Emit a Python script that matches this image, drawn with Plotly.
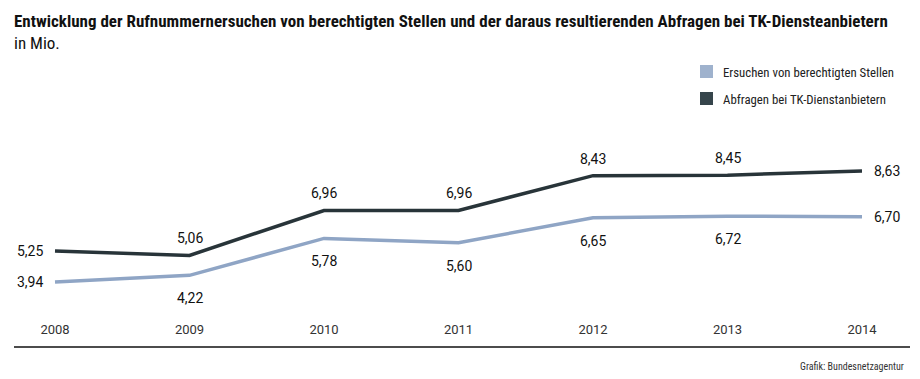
import plotly.graph_objects as go

years = [2008, 2009, 2010, 2011, 2012, 2013, 2014]
ersuchen = [3.94, 4.22, 5.78, 5.60, 6.65, 6.72, 6.70]
abfragen = [5.25, 5.06, 6.96, 6.96, 8.43, 8.45, 8.63]
ersuchen_labels = ["3,94", "4,22", "5,78", "5,60", "6,65", "6,72", "6,70"]
abfragen_labels = ["5,25", "5,06", "6,96", "6,96", "8,43", "8,45", "8,63"]
series_names = ["Ersuchen von berechtigten Stellen", "Abfragen bei TK-Dienstanbietern"]

LIGHT = "#8fa5c5"
DARK = "#283439"
OFF = 8  # page body margin
W, H = 912, 371
ML, MR, MT, MB = 12, 20, 112, 59
PW, PH = W - ML - MR, H - MT - MB

def px_x(p):
    return (p - OFF - ML) / PW

def px_y(p):
    return (H - MB - (p - OFF)) / PH

fig = go.Figure()
fig.add_trace(go.Scatter(x=years, y=ersuchen, mode="lines", name=series_names[0],
                         line=dict(color=LIGHT, width=3.5), showlegend=False))
fig.add_trace(go.Scatter(x=years, y=abfragen, mode="lines", name=series_names[1],
                         line=dict(color=DARK, width=3.5), showlegend=False))

LABEL_FONT = dict(family="Roboto, sans-serif", size=14, color="#111")
annotations = []
n = len(years)
for i, (yr, v, t) in enumerate(zip(years, ersuchen, ersuchen_labels)):
    if i == 0:
        a = dict(xanchor="right", xshift=-10, yshift=0)
    elif i == n - 1:
        a = dict(xanchor="left", xshift=10, yshift=0)
    else:
        a = dict(xanchor="center", xshift=0, yshift=-23)
    annotations.append(dict(x=yr, y=v, text=t, showarrow=False, yanchor="middle",
                            font=LABEL_FONT, **a))
for i, (yr, v, t) in enumerate(zip(years, abfragen, abfragen_labels)):
    if i == 0:
        a = dict(xanchor="right", xshift=-10, yshift=0)
    elif i == n - 1:
        a = dict(xanchor="left", xshift=10, yshift=0)
    else:
        a = dict(xanchor="center", xshift=0, yshift=17)
    annotations.append(dict(x=yr, y=v, text=t, showarrow=False, yanchor="middle",
                            font=LABEL_FONT, **a))

shapes = [
    dict(type="line", xref="paper", yref="paper", x0=px_x(14), x1=px_x(910),
         y0=px_y(347), y1=px_y(347), line=dict(color="#111", width=1.5)),
    dict(type="rect", xref="paper", yref="paper", x0=px_x(700), x1=px_x(713),
         y0=px_y(78), y1=px_y(65), fillcolor="#9fb2cd", line=dict(width=0)),
    dict(type="rect", xref="paper", yref="paper", x0=px_x(700), x1=px_x(713),
         y0=px_y(105), y1=px_y(92), fillcolor="#36454b", line=dict(width=0)),
]

COND = "Roboto Condensed, Liberation Sans Narrow, Roboto, sans-serif"
annotations += [
    dict(xref="paper", yref="paper", x=px_x(721), y=px_y(72), xanchor="left", yanchor="middle",
         text=series_names[0], showarrow=False, font=dict(family=COND, size=12.8, color="#222")),
    dict(xref="paper", yref="paper", x=px_x(721), y=px_y(99), xanchor="left", yanchor="middle",
         text=series_names[1], showarrow=False, font=dict(family=COND, size=12.8, color="#222")),
    dict(xref="paper", yref="paper", x=px_x(906), y=px_y(366), xanchor="right", yanchor="middle",
         text="Grafik: Bundesnetzagentur", showarrow=False, font=dict(family=COND, size=10, color="#333")),
    dict(xref="paper", yref="paper", x=px_x(12), y=px_y(8.5), xanchor="left", yanchor="top",
         align="left",
         text="<b>Entwicklung der Rufnummernersuchen von berechtigten Stellen und der daraus resultierenden Abfragen bei TK-Diensteanbietern</b><br>in Mio.",
         showarrow=False, font=dict(family=COND, size=17, color="#111")),
]

fig.update_layout(
    width=W, height=H,
    margin=dict(l=ML, r=MR, t=MT, b=MB),
    paper_bgcolor="white", plot_bgcolor="white",
    font=dict(family=COND),
    xaxis=dict(range=[2008 - 35 / 134.5, 2014 + 38 / 134.5], tickvals=years,
               ticktext=[str(y) for y in years], showgrid=False, zeroline=False,
               showline=False, ticks="",
               tickfont=dict(family="Roboto, sans-serif", size=13, color="#333")),
    yaxis=dict(range=[2.335, 10.78], visible=False, showgrid=False, zeroline=False),
    shapes=shapes, annotations=annotations,
)

fig.write_html("out.html")
